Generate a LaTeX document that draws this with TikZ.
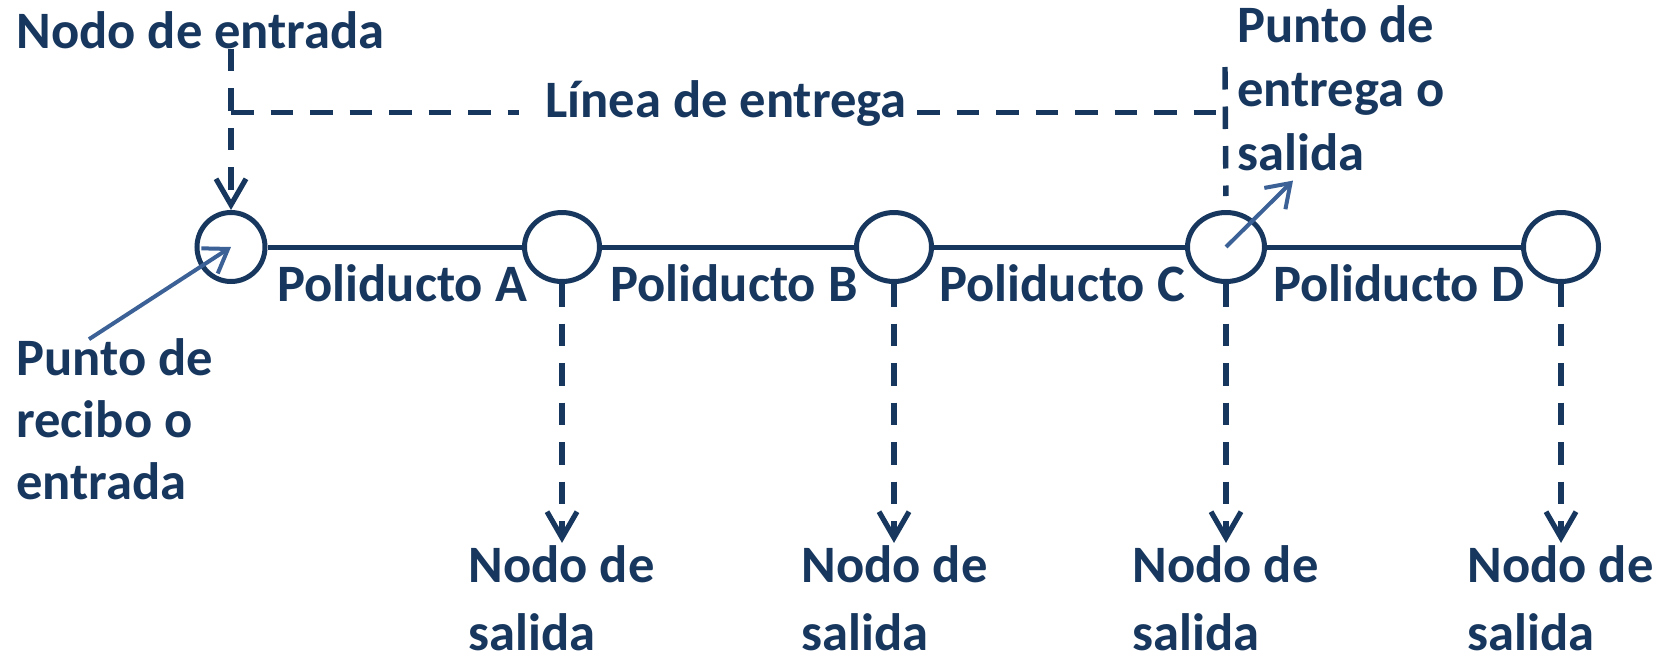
\documentclass[tikz,border=0pt]{standalone}
\usepackage{fontspec}
\setmainfont{Carlito}
\usetikzlibrary{arrows.meta,shapes.geometric,calc}
\definecolor{navy}{HTML}{17375E}
\definecolor{midblue}{HTML}{3B6196}
\begin{document}
\begin{tikzpicture}[x=0.5pt,y=-0.5pt,
  lbl/.style={font=\fontsize{26.3}{32}\selectfont\bfseries, text=navy, inner sep=0pt, anchor=base west},
  exitlbl/.style={font=\fontsize{26.3}{34}\selectfont\bfseries, text=navy, inner sep=0pt, align=left, anchor=south west},
  pnode/.style={ellipse, draw=navy, line width=2.5pt, inner sep=0pt, minimum height=34.5pt},
  pipe/.style={draw=navy, line width=2.5pt},
  dline/.style={draw=navy, line width=2.7pt, dash pattern=on 11.25pt off 8.5pt},
  dtip/.style={-{Straight Barb[length=13pt,width=15pt,line width=2.6pt]}},
  barrow/.style={draw=midblue, line width=2pt, -{Straight Barb[length=11pt,width=15pt,line width=2pt]}}
]
\useasboundingbox (0,0) rectangle (1659,659);

% pipeline nodes
\node[pnode, minimum width=34pt] (c0) at (231,247) {};
\node[pnode, minimum width=37.5pt] (cA) at (562,247) {};
\node[pnode, minimum width=37.5pt] (cB) at (894,247) {};
\node[pnode, minimum width=38.5pt] (cC) at (1226,247) {};
\node[pnode, minimum width=37.5pt] (cD) at (1561,247) {};

\draw[pipe] (c0) -- (cA);
\draw[pipe] (cA) -- (cB);
\draw[pipe] (cB) -- (cC);
\draw[pipe] (cC) -- (cD);

% pipe labels
\node[lbl] (pA) at (277,301) {Poliducto A};
\node[lbl] (pB) at (610,301) {Poliducto B};
\node[lbl] (pC) at (939,301) {Poliducto C};
\node[lbl] (pD) at (1273,301) {Poliducto D};

% top labels
\node[lbl] (ne) at (16,48) {Nodo de entrada};
\node[lbl] (le) at (545,117) {Línea de entrega};
\node[lbl] (pe) at (1237,42) {\begin{tabular}[t]{@{}l@{}}Punto de\\entrega o\\salida\end{tabular}};
\node[lbl, font=\fontsize{26.3}{31}\selectfont\bfseries] (pr) at (16,375) {\begin{tabular}[t]{@{}l@{}}Punto de\\recibo o\\entrada\end{tabular}};

% exit nodes
\node[exitlbl] (sA) at (468,651) {Nodo de\\salida};
\node[exitlbl] (sB) at (801,651) {Nodo de\\salida};
\node[exitlbl] (sC) at (1132,651) {Nodo de\\salida};
\node[exitlbl] (sD) at (1467,651) {Nodo de\\salida};

% delivery line
\draw[dline, dtip] (ne.south -| c0) -- (c0.north);
\draw[dline, shorten >=13pt] (c0 |- le.mid) -- (le.mid west);
\draw[dline, shorten <=5pt] (le.mid east) -- (cC |- le.mid);
\coordinate (ctop) at (1225,67);
\draw[dline, shorten >=7pt] (ctop) -- (cC.north);

% exit arrows
\draw[dline, dtip, shorten >=1pt] (cA.south) -- (cA.south |- sA.north);
\draw[dline, dtip, shorten >=1pt] (cB.south) -- (cB.south |- sB.north);
\draw[dline, dtip, shorten >=1pt] (cC.south) -- (cC.south |- sC.north);
\draw[dline, dtip, shorten >=1pt] (cD.south) -- (cD.south |- sD.north);

% receipt / delivery point arrows
\draw[barrow] ($(pr.north west)+(73,8)$) -- (c0.center);
\draw[barrow] (cC.center) -- ($(pe.south west)+(56,-9)$);
\end{tikzpicture}
\end{document}
